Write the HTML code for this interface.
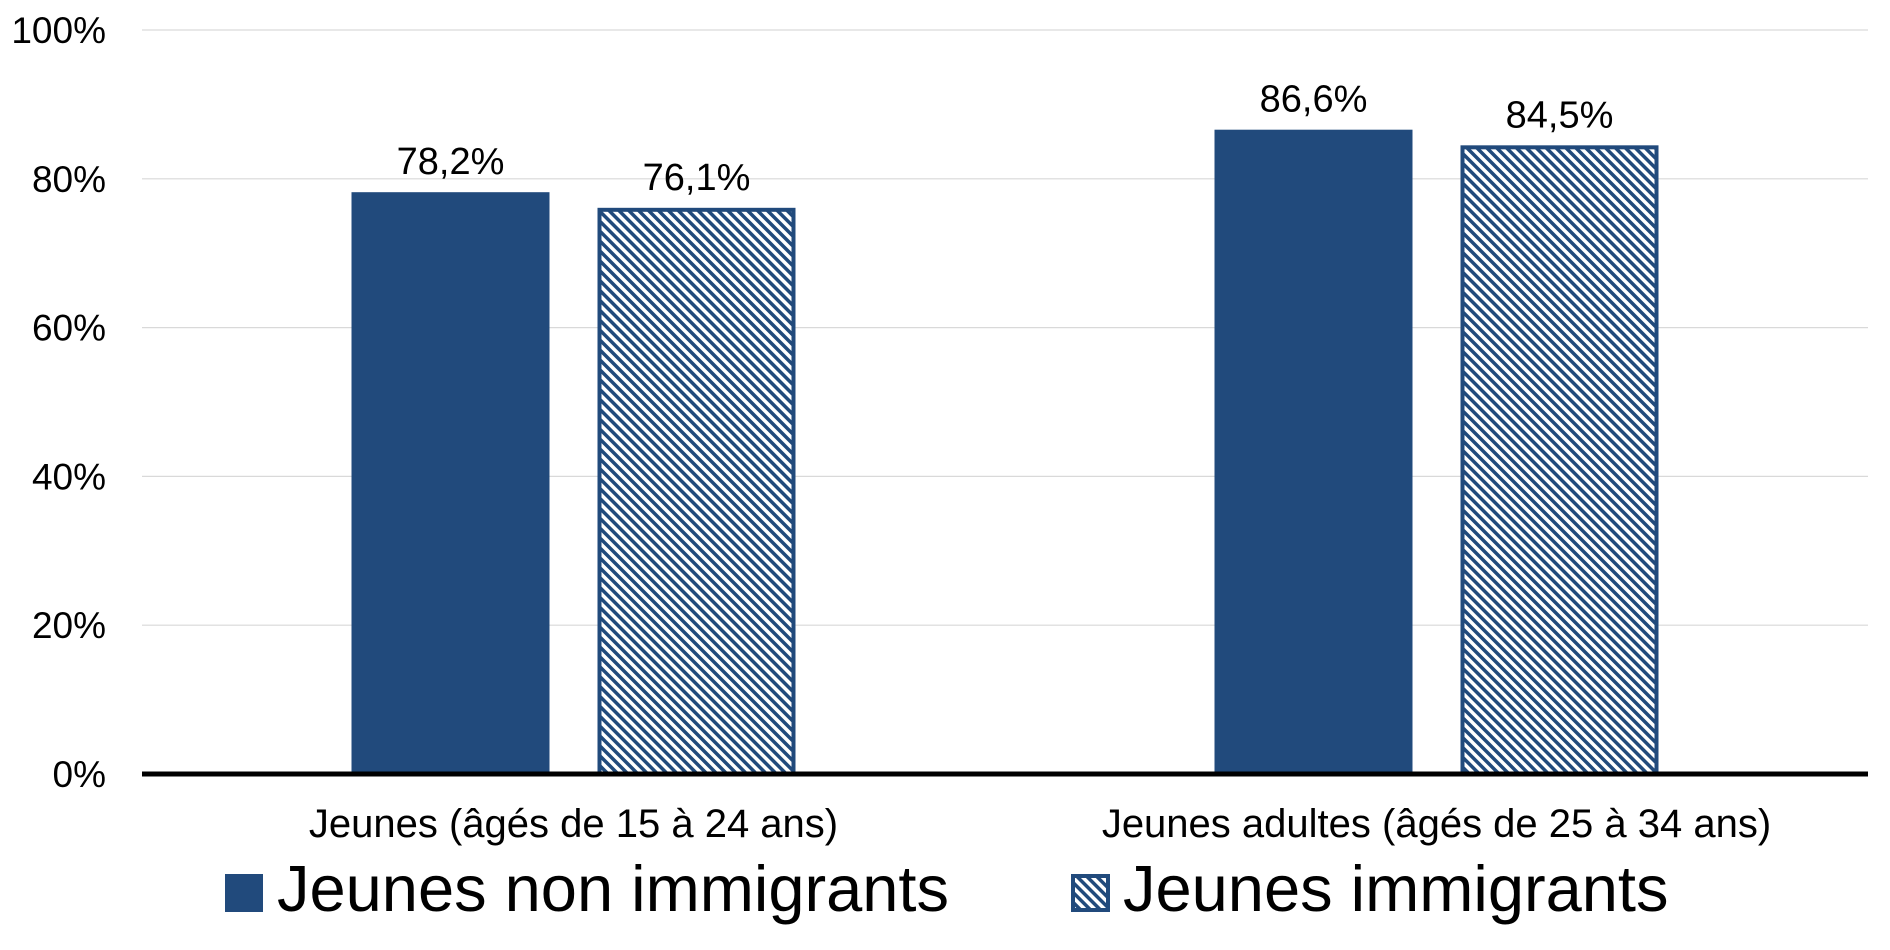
<!DOCTYPE html>
<html><head><meta charset="utf-8">
<style>
html,body{margin:0;padding:0;background:#fff;}
body{width:1890px;height:945px;overflow:hidden;font-family:"Liberation Sans",Arial,sans-serif;}
</style></head>
<body>
<svg id="chart" width="1890" height="945" viewBox="0 0 1890 945" xmlns="http://www.w3.org/2000/svg">
<defs>
<pattern id="hatch" patternUnits="userSpaceOnUse" width="7" height="7" patternTransform="rotate(-45)">
<rect width="7" height="7" fill="#fff"/>
<rect x="0" y="0" width="3.5" height="7" fill="#214a7c"/>
</pattern>
</defs>
<g id="grid"></g>
<g id="bars"></g>
<g id="labels"></g>
</svg>
<script>
const categories = ["Jeunes (âgés de 15 à 24 ans)", "Jeunes adultes (âgés de 25 à 34 ans)"];
const seriesNames = ["Jeunes non immigrants", "Jeunes immigrants"];
const nonImmigrants = [78.2, 86.6];
const immigrants = [76.1, 84.5];
const yTicks = [0, 20, 40, 60, 80, 100];
const yTickLabels = ["0%", "20%", "40%", "60%", "80%", "100%"];

const NS = "http://www.w3.org/2000/svg";
const plotLeft = 142, plotRight = 1868, y0 = 774, y100 = 30;
const yScale = v => y0 - (v / 100) * (y0 - y100);
const groupW = (plotRight - plotLeft) / categories.length;
const barW = 198, gap = 48;
const xBar = (ci, si) => {
  const c = plotLeft + groupW * (ci + 0.5);
  return si === 0 ? c - gap / 2 - barW : c + gap / 2;
};
function mk(tag, attrs, parent) {
  const e = document.createElementNS(NS, tag);
  for (const k in attrs) e.setAttribute(k, attrs[k]);
  parent.appendChild(e);
  return e;
}
const grid = document.getElementById("grid");
const bars = document.getElementById("bars");
const labels = document.getElementById("labels");

yTicks.forEach((t, i) => {
  const y = yScale(t);
  if (t !== 0) {
    const l = mk("line", {x1: plotLeft, x2: plotRight, y1: y, y2: y, stroke: "#d9d9d9", "stroke-width": 1.2}, grid);
    
    
  }
  const tx = mk("text", {x: 106, y: y + 13, "text-anchor": "end", "font-size": 37, fill: "#000"}, labels);
  tx.textContent = yTickLabels[i];
  
  
});

const fmt = v => v.toFixed(1).replace(".", ",") + "%";
[nonImmigrants, immigrants].forEach((series, si) => {
  series.forEach((v, ci) => {
    const x = xBar(ci, si), y = yScale(v);
    let r;
    if (si === 0) {
      r = mk("rect", {x: x, y: y, width: barW, height: y0 - y, fill: "#214a7c"}, bars);
      
    } else {
      r = mk("rect", {x: x + 2, y: y + 2, width: barW - 4, height: y0 - y - 2, fill: "url(#hatch)", stroke: "#214a7c", "stroke-width": 4}, bars);
      
    }
    
    const t = mk("text", {x: x + barW / 2, y: y - 18, "text-anchor": "middle", "font-size": 38, fill: "#000"}, labels);
    t.textContent = fmt(v);
    
    
  });
});

const axis = mk("line", {x1: plotLeft, x2: plotRight, y1: y0, y2: y0, stroke: "#000", "stroke-width": 5}, labels);



categories.forEach((c, ci) => {
  const t = mk("text", {x: plotLeft + groupW * (ci + 0.5), y: 837, "text-anchor": "middle", "font-size": 40, fill: "#000"}, labels);
  t.textContent = c;
  
  
});

const legendX = [225, 1071];
seriesNames.forEach((n, si) => {
  const g = mk("g", {}, labels);
  
  
  if (si === 0) {
    mk("rect", {x: legendX[si], y: 874, width: 38, height: 38, fill: "#214a7c"}, g);
  } else {
    mk("rect", {x: legendX[si] + 2, y: 876, width: 35, height: 34, fill: "url(#hatch)", stroke: "#214a7c", "stroke-width": 4}, g);
  }
  const t = mk("text", {x: legendX[si] + 52, y: 911, "font-size": 65, fill: "#000"}, g);
  t.textContent = n;
});
</script>
</body></html>
